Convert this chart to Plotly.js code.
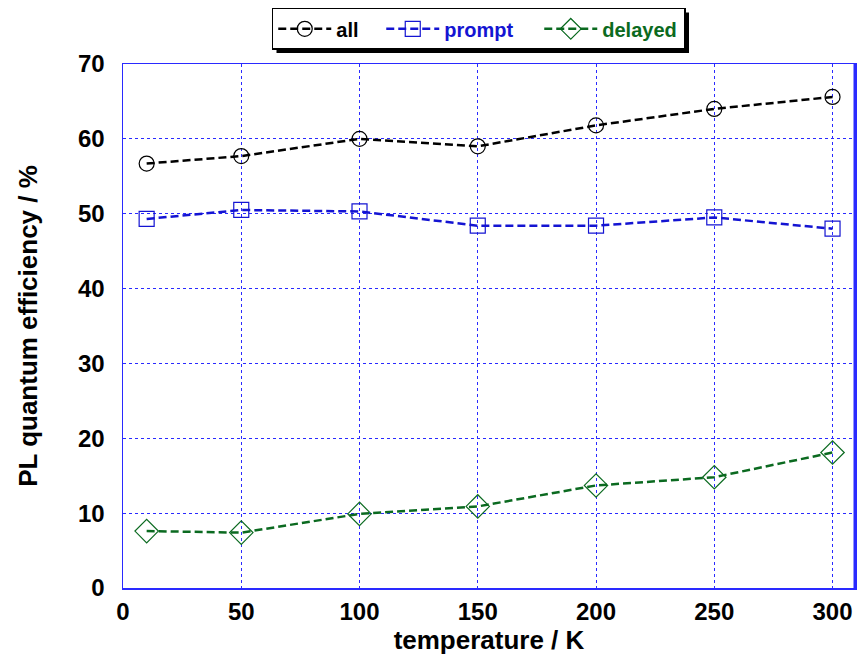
<!DOCTYPE html>
<html>
<head>
<meta charset="utf-8">
<script src="https://cdn.plot.ly/plotly-3.0.1.min.js"></script>
<style>
  html, body { margin: 0; padding: 0; background: #ffffff; }
  #chart { width: 857px; height: 666px; }
</style>
</head>
<body>
<div id="chart"></div>
<script>
// Temperature sweep (K)
const temperature = [10, 50, 100, 150, 200, 250, 300];

// PL quantum efficiency (%) per emission component
const qeAll     = [56.7, 57.7, 60.0, 59.0, 61.8, 64.0, 65.6];
const qePrompt  = [49.3, 50.5, 50.3, 48.4, 48.4, 49.5, 48.0];
const qeDelayed = [7.6, 7.4, 9.9, 10.9, 13.7, 14.8, 18.1];

const seriesNames = ['all', 'prompt', 'delayed'];

const FONT = 'Arial, "Liberation Sans", sans-serif';
const GRID_BLUE = '#2a2aff';

function series(y, name, color, symbol, size, entryWidth) {
  return {
    x: temperature,
    y: y,
    type: 'scatter',
    mode: 'lines+markers',
    name: '<span style="color:' + color + '">' + name + '</span>',
    legendwidth: entryWidth,
    line: { color: color, width: 2.5, dash: '8px,4px' },
    marker: { symbol: symbol, size: size, color: color, line: { width: 1.2, color: color } }
  };
}

const data = [
  series(qeAll, seriesNames[0], '#000000', 'circle-open', 15, 40),
  series(qePrompt, seriesNames[1], '#1414d2', 'square-open', 15, 90),
  series(qeDelayed, seriesNames[2], '#0b6a20', 'diamond-open', 18, 77)
];

const axisCommon = {
  showline: true,
  linecolor: GRID_BLUE,
  linewidth: 1.5,
  mirror: true,
  showgrid: true,
  gridcolor: GRID_BLUE,
  gridwidth: 1,
  griddash: 'dot',
  zeroline: false,
  ticks: '',
  tickfont: { family: FONT, size: 24, color: '#000000', weight: 'bold' }
};

const frameShapes = [
  // thicker right frame edge
  { type: 'line', xref: 'paper', yref: 'paper', x0: 1, x1: 1, y0: 0, y1: 1,
    line: { color: GRID_BLUE, width: 3 } }
];

const layout = {
  width: 857,
  height: 666,
  paper_bgcolor: '#ffffff',
  plot_bgcolor: '#ffffff',
  margin: { l: 123, r: 2, t: 64, b: 78 },
  font: { family: FONT },
  showlegend: true,
  legend: {
    orientation: 'h',
    x: 0.486,
    xanchor: 'center',
    y: 1.027,
    yanchor: 'bottom',
    bgcolor: '#ffffff',
    bordercolor: '#000000',
    borderwidth: 1.5,
    itemwidth: 53,
    font: { family: FONT, size: 20, color: '#000000', weight: 'bold' },
    tracegroupgap: 0
  },
  xaxis: Object.assign({}, axisCommon, {
    range: [0, 309.5],
    tickvals: [0, 50, 100, 150, 200, 250, 300],
    ticklabelstandoff: 2,
    title: { text: 'temperature / K', font: { family: FONT, size: 26, color: '#000000', weight: 'bold' }, standoff: 0 }
  }),
  yaxis: Object.assign({}, axisCommon, {
    range: [0, 70],
    tickvals: [0, 10, 20, 30, 40, 50, 60, 70],
    ticklabelstandoff: 12,
    title: { text: 'PL quantum efficiency / %', font: { family: FONT, size: 26, color: '#000000', weight: 'bold' }, standoff: 33 }
  }),
  shapes: frameShapes.slice()
};

Plotly.newPlot('chart', data, layout, { displayModeBar: false, staticPlot: true }).then(function (gd) {
  // drop shadow under the legend box, offset down-right
  const bg = gd.querySelector('.legend .bg');
  if (!bg) return;
  const r = bg.getBoundingClientRect();
  const c = gd.getBoundingClientRect();
  const sz = gd._fullLayout._size;
  const off = 4;
  const px = v => (v - c.left - sz.l) / sz.w;
  const py = v => 1 - (v - c.top - sz.t) / sz.h;
  const shadow = {
    type: 'rect', xref: 'paper', yref: 'paper', layer: 'above',
    x0: px(r.left + off), x1: px(r.right + off),
    y0: py(r.bottom + off), y1: py(r.top + off),
    fillcolor: '#000000', line: { width: 0 }
  };
  return Plotly.relayout(gd, { shapes: frameShapes.concat([shadow]) });
});
</script>
</body>
</html>
